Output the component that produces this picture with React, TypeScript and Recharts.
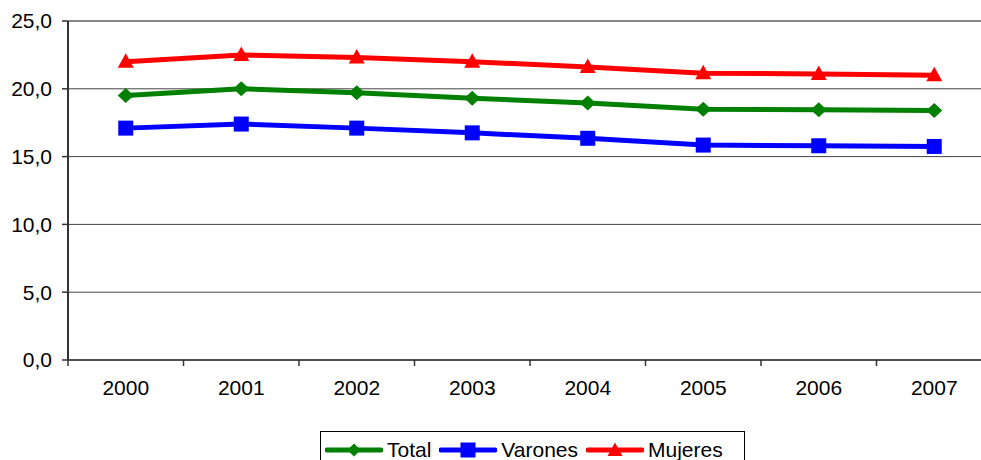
import React from 'react';
import { LineChart, Line, XAxis, YAxis, CartesianGrid, ReferenceLine } from 'recharts';

const years = ['2000', '2001', '2002', '2003', '2004', '2005', '2006', '2007'];
const total = [19.5, 20.0, 19.7, 19.3, 18.95, 18.5, 18.45, 18.4];
const varones = [17.1, 17.4, 17.1, 16.75, 16.35, 15.85, 15.8, 15.75];
const mujeres = [22.0, 22.5, 22.3, 22.0, 21.6, 21.15, 21.1, 21.0];
const yTicks = [0, 5, 10, 15, 20, 25];

const data = years.map((year, i) => ({
  year,
  total: total[i],
  varones: varones[i],
  mujeres: mujeres[i],
}));

const FONT = '"Liberation Sans", Arial, sans-serif';
const HALF_BAND = 57.75;

const Diamond = ({ cx, cy }: any) =>
  cx == null ? null : (
    <polygon points={`${cx},${cy - 7.5} ${cx + 8},${cy} ${cx},${cy + 7.5} ${cx - 8},${cy}`} fill="#008000" />
  );

const Square = ({ cx, cy }: any) =>
  cx == null ? null : <rect x={cx - 7.5} y={cy - 7.5} width={15} height={15} fill="#0000FF" />;

const Triangle = ({ cx, cy }: any) =>
  cx == null ? null : (
    <polygon points={`${cx},${cy - 8.5} ${cx + 8},${cy + 6} ${cx - 8},${cy + 6}`} fill="#FF0000" />
  );

const XTick = ({ x, y, payload }: any) => (
  <g>
    <line x1={x - HALF_BAND} x2={x - HALF_BAND} y1={y} y2={y + 6} stroke="#333" strokeWidth={1.5} />
    <text x={x} y={y + 35} textAnchor="middle" fontSize={21} fontFamily={FONT} fill="#000">
      {payload.value}
    </text>
  </g>
);

const legendItems = [
  { name: 'Total', color: '#008000', marker: 'diamond' },
  { name: 'Varones', color: '#0000FF', marker: 'square' },
  { name: 'Mujeres', color: '#FF0000', marker: 'triangle' },
];

function LegendSample({ color, marker }: { color: string; marker: string }) {
  return (
    <svg width={58} height={16} style={{ display: 'block' }}>
      <line x1={2} x2={56} y1={8} y2={8} stroke={color} strokeWidth={5} strokeLinecap="round" />
      {marker === 'diamond' && <polygon points="29,1.5 35.5,8 29,14.5 22.5,8" fill={color} />}
      {marker === 'square' && <rect x={21.5} y={0.5} width={15} height={15} fill={color} />}
      {marker === 'triangle' && <polygon points="29,0.5 36.5,14 21.5,14" fill={color} />}
    </svg>
  );
}

export default function App() {
  return (
    <div style={{ position: 'absolute', left: 0, top: 0, width: 981, height: 460, overflow: 'hidden', background: '#fff' }}>
      <LineChart width={1000} height={460} data={data} margin={{ top: 21, right: 8, left: 0, bottom: 60 }}>
        <CartesianGrid vertical={false} stroke="#444" strokeWidth={1} />
        <ReferenceLine y={25} stroke="#888" strokeWidth={2} />
        <XAxis
          dataKey="year"
          height={40}
          padding={{ left: HALF_BAND, right: HALF_BAND }}
          tickLine={false}
          tickSize={0}
          tickMargin={0}
          axisLine={{ stroke: '#333', strokeWidth: 1.5 }}
          tick={<XTick />}
          interval={0}
        />
        <YAxis
          width={68}
          domain={[0, 25]}
          ticks={yTicks}
          tickFormatter={(v: number) => v.toFixed(1).replace('.', ',')}
          tick={{ fontSize: 21, fontFamily: FONT, fill: '#000' }}
          tickLine={{ stroke: '#333', strokeWidth: 1.5 }}
          tickSize={6}
          tickMargin={10}
          axisLine={{ stroke: '#333', strokeWidth: 2 }}
        />
        <Line dataKey="total" stroke="#008000" strokeWidth={5} dot={<Diamond />} isAnimationActive={false} />
        <Line dataKey="varones" stroke="#0000FF" strokeWidth={5} dot={<Square />} isAnimationActive={false} />
        <Line dataKey="mujeres" stroke="#FF0000" strokeWidth={5} dot={<Triangle />} isAnimationActive={false} />
      </LineChart>
      <div
        style={{
          position: 'absolute',
          left: 320,
          top: 431,
          width: 425,
          height: 34,
          border: '1px solid #000',
          boxSizing: 'border-box',
          display: 'flex',
          alignItems: 'flex-start',
          paddingTop: 7,
          paddingLeft: 4,
          fontFamily: FONT,
          fontSize: 21,
          lineHeight: '22px',
        }}
      >
        {legendItems.map((it) => (
          <div key={it.name} style={{ display: 'flex', alignItems: 'center', marginRight: 8 }}>
            <LegendSample color={it.color} marker={it.marker} />
            <span style={{ marginLeft: 4 }}>{it.name}</span>
          </div>
        ))}
      </div>
    </div>
  );
}
